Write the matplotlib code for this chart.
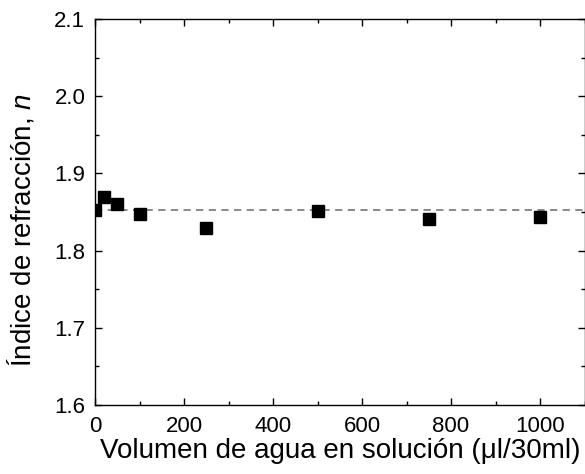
import matplotlib
matplotlib.use("Agg")
import matplotlib.pyplot as plt
from matplotlib.ticker import MultipleLocator

plt.rcParams['font.family'] = ['Liberation Sans', 'DejaVu Sans']
plt.rcParams['mathtext.fontset'] = 'custom'
plt.rcParams['mathtext.it'] = 'Liberation Sans:italic'
plt.rcParams['mathtext.rm'] = 'Liberation Sans'

volume = [0, 20, 50, 100, 250, 500, 750, 1000]
n_index = [1.853, 1.870, 1.861, 1.848, 1.829, 1.851, 1.841, 1.843]
mean_n = 1.853
x_ticks = [0, 200, 400, 600, 800, 1000]
y_ticks = [1.6, 1.7, 1.8, 1.9, 2.0, 2.1]

fig = plt.figure(figsize=(5.85, 4.74), dpi=100)
ax = fig.add_axes([95/585, 1-405/474, 489.5/585, (405-19)/474])

ax.axhline(mean_n, color='#808080', linestyle=(0, (4, 3)), linewidth=1.3, zorder=1)
ax.plot(volume, n_index, linestyle='none', marker='s', markersize=8.5,
        color='black', zorder=3)

ax.set_xlim(0, 1100)
ax.set_ylim(1.6, 2.1)
ax.set_xticks(x_ticks)
ax.set_yticks(y_ticks)
ax.set_yticklabels([f"{v:.1f}" for v in y_ticks])
ax.xaxis.set_minor_locator(MultipleLocator(100))
ax.yaxis.set_minor_locator(MultipleLocator(0.05))
ax.tick_params(which='both', direction='in', top=True, right=True,
               labelsize=16, width=1.0)
ax.tick_params(which='major', length=5)
ax.tick_params(which='minor', length=3)
ax.tick_params(axis='x', which='major', pad=8)
ax.tick_params(axis='y', which='major', pad=7)
for s in ax.spines.values():
    s.set_linewidth(1.0)

ax.set_xlabel("Volumen de agua en solución (μl/30ml)", fontsize=20, labelpad=1)
ax.set_ylabel("Índice de refracción, $\\mathit{n}$", fontsize=20)
ax.yaxis.set_label_coords(-0.12, 0.453)

fig.savefig("out.png", dpi=100)
